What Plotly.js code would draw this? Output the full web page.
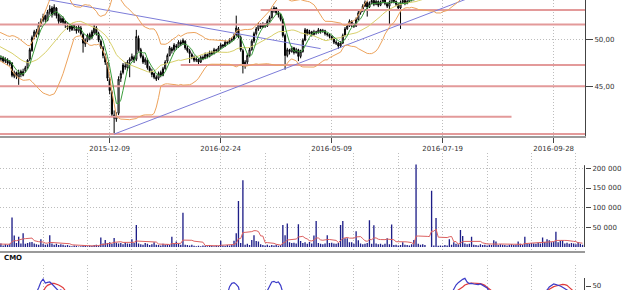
<!DOCTYPE html>
<html>
<head>
<meta charset="utf-8">
<script src="https://cdn.plot.ly/plotly-3.0.1.min.js"></script>
<style>html,body{margin:0;padding:0;background:#fff;overflow:hidden}#chart{width:625px;height:290px}</style>
</head>
<body>
<div id="chart"></div>
<script>
// ---------------- DATA ----------------
// bar index of the first value in every series (bars before 0 lie left of the visible window)
const firstIndex = -25;

const open = [
50.4,50.6,50.9,50.4,50.8,51.2,50.7,50.3,50.5,49.9,50.2,49.6,49.8,49.8,50.0,49.5,49.7,49.2,49.4,48.9,49.1,48.6,48.8,48.3,48.5,
48.1,47.9,48.1,47.7,47.8,47.4,47.5,46.1,46.5,46.0,
46.6,46.2,46.7,47.0,47.9,48.8,50.3,50.8,50.6,51.5,
52.0,52.5,52.0,52.9,53.3,52.7,53.3,52.6,51.8,52.2,
51.9,51.4,51.4,51.0,51.5,51.1,50.9,51.2,50.5,49.5,
49.9,50.5,50.2,50.7,51.2,50.6,49.8,49.1,48.2,47.5,
45.8,44.4,42.0,41.6,42.2,45.9,46.5,47.2,47.0,47.7,
47.9,48.1,47.9,50.1,48.9,48.2,47.6,47.8,47.0,46.6,
46.4,46.0,45.9,46.5,46.2,46.9,47.7,48.3,49.0,48.9,
49.3,49.2,49.7,49.6,49.8,49.1,48.8,48.4,48.1,47.8,
47.9,47.6,48.1,48.0,48.4,48.2,48.6,48.5,48.9,48.8,
49.1,49.4,49.3,49.7,49.6,49.9,50.0,50.5,51.1,50.2,
48.8,47.2,47.6,48.3,48.9,49.8,50.6,51.1,51.6,51.3,
51.6,51.4,51.9,52.3,53.0,53.3,52.8,52.6,52.1,50.4,
48.3,48.9,48.7,49.1,48.6,48.9,48.2,48.7,49.9,51.0,
50.6,50.8,50.5,50.8,50.7,51.0,50.8,50.9,50.6,50.5,
50.3,50.1,49.7,49.6,49.3,49.6,50.4,51.1,51.4,51.9,
51.5,51.4,52.1,52.8,53.0,53.5,53.9,53.4,53.8,54.1,
53.7,54.0,53.6,53.9,54.2,53.8,53.5,53.9,54.3,54.0,
53.7,53.3,53.9,54.1,53.8,54.0,54.4,54.2,54.6,54.9,
55.3,55.0,55.4,55.2,55.6,55.5,56.6,56.4,57.3,57.1,
57.6,57.9,58.3,58.1,58.6,58.9,59.3,59.1,59.6,59.9,
60.2,60.0,59.6,59.8,59.3,59.5,59.1,59.4,58.9,59.2,
58.8,59.0,59.3,58.9,59.1,58.7,58.9,59.2,58.8,59.0,
58.6,58.9,58.7,59.1,58.8,59.0,59.3,58.9,59.1,59.4,
59.2,59.5,59.3,59.6,59.4,59.7,60.0,59.8,60.2,60.5,
60.9,61.3,61.1,61.6,61.9,61.7,62.0,61.8,61.5,61.7,
61.4,61.6,61.3,61.5
];
const high = [
50.9,51.2,51.1,51.0,51.4,51.4,50.9,50.8,50.7,50.4,50.4,50.0,50.1,50.2,50.2,49.9,49.9,49.6,49.6,49.3,49.3,49.0,49.0,48.7,48.7,
48.3,48.3,48.2,48.1,48.0,47.8,47.6,46.7,46.6,46.8,
46.8,46.9,47.2,47.9,49.1,50.4,51.0,51.1,51.8,52.2,
52.7,52.6,53.1,53.6,53.5,53.7,53.4,52.7,52.5,52.4,
52.0,51.8,51.6,51.7,51.6,51.4,51.6,51.4,50.7,50.1,
50.6,50.7,51.0,51.6,51.4,50.8,50.0,49.3,48.5,47.6,
46.0,44.6,42.5,42.3,46.1,46.7,47.5,47.6,47.8,48.1,
48.5,48.3,51.0,50.4,49.1,48.4,48.1,48.0,47.2,46.9,
46.5,46.2,46.6,46.7,47.1,47.8,48.5,49.3,49.2,49.6,
49.5,49.9,49.9,50.1,49.9,49.3,49.0,48.6,48.3,48.1,
48.0,48.3,48.3,48.6,48.5,48.8,48.8,49.1,49.0,49.3,
49.6,49.5,49.9,49.8,50.1,50.2,50.6,52.5,51.3,50.4,
49.0,47.8,48.5,49.1,50.0,50.8,51.3,51.8,51.7,51.8,
51.7,52.1,52.5,53.3,53.5,53.4,53.0,52.7,52.2,50.6,
49.1,49.0,49.3,49.2,49.1,49.0,48.9,50.1,51.2,51.1,
51.0,50.9,51.0,50.9,51.2,51.1,51.1,51.0,50.7,50.6,
50.4,50.2,49.9,49.7,49.8,50.6,51.3,51.6,52.1,52.0,
51.7,52.3,53.0,53.2,53.7,54.1,54.0,54.0,54.3,54.2,
54.2,54.1,54.1,54.4,54.3,53.9,54.1,54.5,54.4,54.1,
53.8,54.1,54.3,54.2,54.2,54.6,54.5,54.8,55.1,55.5,
55.5,55.6,55.6,55.8,55.8,56.8,56.8,57.5,57.5,57.8,
58.1,58.5,58.5,58.8,59.1,59.5,59.5,59.8,60.1,60.4,
60.4,60.2,60.0,60.0,59.7,59.7,59.6,59.6,59.4,59.4,
59.2,59.5,59.5,59.3,59.3,59.1,59.4,59.4,59.2,59.2,
59.1,59.1,59.3,59.3,59.2,59.5,59.5,59.3,59.6,59.6,
59.7,59.7,59.8,59.8,59.9,60.2,60.2,60.4,60.7,61.1,
61.5,61.5,61.8,62.1,62.1,62.2,62.2,62.0,61.9,61.9,
61.8,61.8,61.7,61.7
];
const low = [
50.1,50.4,50.2,50.2,50.6,50.5,50.1,50.1,49.7,49.7,49.4,49.4,49.6,49.6,49.3,49.3,49.0,49.0,48.7,48.7,48.4,48.4,48.1,48.1,47.9,
47.5,47.7,47.5,47.5,47.3,47.2,46.0,45.9,45.8,45.2,
46.0,46.1,46.5,46.9,47.7,48.7,50.0,50.2,50.4,51.3,
51.8,51.8,51.9,52.6,52.3,52.5,52.2,51.6,51.7,51.5,
51.2,51.0,50.8,50.9,50.9,50.6,50.7,50.4,48.6,49.2,
49.7,49.9,50.0,50.5,50.4,49.7,49.0,48.0,47.3,45.6,
44.2,41.8,40.0,41.3,42.0,45.5,46.3,46.8,46.7,46.0,
47.7,47.5,47.7,48.7,48.0,47.4,47.3,46.8,46.5,46.0,
45.8,45.6,45.7,46.0,46.1,46.8,47.5,48.2,48.5,48.7,
48.9,49.1,49.3,49.4,48.9,48.6,47.5,47.9,47.6,47.6,
47.3,47.5,47.8,47.9,48.0,48.1,48.3,48.4,48.6,48.7,
49.0,49.1,49.2,49.4,49.5,49.7,49.9,50.3,50.1,48.7,
46.4,46.9,47.4,48.1,48.8,49.6,50.4,50.9,51.1,51.2,
51.2,51.3,51.8,52.2,52.8,52.6,52.3,51.9,50.2,46.8,
48.1,48.4,48.6,48.4,48.5,47.7,48.0,48.6,49.8,50.4,
50.5,50.3,50.4,50.5,50.6,50.6,50.7,50.4,50.3,50.1,
49.9,49.5,49.4,49.0,49.1,49.5,50.3,51.0,51.3,51.3,
51.2,51.3,52.0,52.6,52.9,53.4,52.4,53.3,53.7,53.5,
53.6,53.4,53.5,53.8,53.6,53.3,51.5,53.8,53.8,53.5,
53.1,51.1,53.8,53.6,53.7,53.9,54.0,54.1,54.4,54.7,
54.8,54.8,55.0,55.0,55.3,55.3,56.2,56.2,56.9,56.9,
57.4,57.7,57.9,57.9,58.4,58.7,58.9,58.9,59.4,59.7,
59.8,59.4,59.4,59.1,59.1,58.9,58.9,58.7,58.7,58.6,
58.6,58.8,58.7,58.7,58.5,58.5,58.7,58.6,58.6,58.4,
58.4,58.5,58.5,58.6,58.6,58.8,58.7,58.7,58.9,59.0,
59.0,59.1,59.1,59.2,59.2,59.5,59.6,59.6,60.0,60.3,
60.7,60.9,60.9,61.4,61.5,61.5,61.6,61.3,61.3,61.2,
61.2,61.1,61.1,61.0
];
const close = [
50.6,50.9,50.4,50.8,51.2,50.7,50.3,50.5,49.9,50.2,49.6,49.8,49.8,50.0,49.5,49.7,49.2,49.4,48.9,49.1,48.6,48.8,48.3,48.5,48.1,
47.9,48.0,47.7,47.9,47.5,47.6,46.2,46.4,46.1,46.5,
46.3,46.6,47.0,47.8,48.9,50.2,50.8,50.5,51.6,51.9,
52.4,52.1,52.9,53.2,52.6,53.4,52.5,51.9,52.2,51.8,
51.5,51.3,51.1,51.4,51.2,50.9,51.3,50.6,49.6,49.9,
50.4,50.1,50.8,51.3,50.6,49.9,49.2,48.3,47.6,45.9,
44.6,42.1,41.7,41.9,45.8,46.4,47.3,47.1,47.6,47.9,
48.2,47.8,50.3,48.9,48.2,47.6,47.9,47.0,46.7,46.3,
46.0,45.8,46.4,46.2,46.9,47.6,48.3,49.1,48.8,49.4,
49.2,49.7,49.5,49.9,49.1,48.8,48.5,48.2,47.8,47.9,
47.6,48.1,48.0,48.4,48.2,48.6,48.5,48.9,48.8,49.1,
49.4,49.3,49.7,49.6,49.9,50.0,50.4,51.2,50.3,48.9,
47.2,47.6,48.3,48.9,49.8,50.6,51.1,51.6,51.3,51.6,
51.4,51.9,52.3,53.0,53.3,52.8,52.6,52.1,50.4,48.3,
48.9,48.7,49.1,48.6,48.9,48.2,48.7,49.9,51.0,50.6,
50.8,50.5,50.8,50.7,51.0,50.8,50.9,50.6,50.5,50.3,
50.1,49.7,49.6,49.3,49.6,50.4,51.1,51.4,51.9,51.5,
51.4,52.1,52.8,53.0,53.5,53.9,53.4,53.8,54.1,53.7,
54.0,53.6,53.9,54.2,53.8,53.5,53.9,54.3,54.0,53.7,
53.3,53.9,54.1,53.8,54.0,54.4,54.2,54.6,54.9,55.3,
55.0,55.4,55.2,55.6,55.5,56.6,56.4,57.3,57.1,57.6,
57.9,58.3,58.1,58.6,58.9,59.3,59.1,59.6,59.9,60.2,
60.0,59.6,59.8,59.3,59.5,59.1,59.4,58.9,59.2,58.8,
59.0,59.3,58.9,59.1,58.7,58.9,59.2,58.8,59.0,58.6,
58.9,58.7,59.1,58.8,59.0,59.3,58.9,59.1,59.4,59.2,
59.5,59.3,59.6,59.4,59.7,60.0,59.8,60.2,60.5,60.9,
61.3,61.1,61.6,61.9,61.7,62.0,61.8,61.5,61.7,61.4,
61.6,61.3,61.5,61.2
];
const volume = [
8000,12000,6000,9000,15000,7000,5000,11000,8000,6000,10000,14000,7000,9000,6000,12000,8000,5000,9000,7000,11000,6000,8000,10000,7000,
6000,9000,4000,7000,5000,8000,75000,29000,10000,26000,
9000,35000,8000,10000,12000,13000,9000,7000,6000,20000,
8000,6000,7000,30000,9000,6000,8000,5000,7000,6000,
4000,5000,3000,2000,4000,3000,1000,2000,4000,3000,
2000,4000,3000,5000,6000,4000,24000,9000,18000,10000,
12000,8000,23000,11000,9000,10000,7000,12000,9000,8000,
20000,10000,56000,9000,7000,6000,10000,8000,5000,7000,
12000,6000,5000,4000,8000,6000,7000,5000,26000,9000,
14000,8000,6000,87000,6000,5000,4000,6000,3000,2000,
3000,2000,4000,3000,2000,5000,3000,2000,4000,3000,
16000,4000,3000,5000,4000,6000,16000,35000,117000,10000,
170000,6000,8000,5000,18000,30000,15000,14000,7000,5000,
4000,6000,3000,5000,4000,6000,3000,5000,56000,30000,
60000,12000,10000,11000,9000,58000,15000,10000,12000,8000,
13000,9000,29000,66000,10000,8000,7000,9000,30000,10000,
11000,9000,8000,10000,56000,66000,22000,22000,12000,12000,
8000,40000,17000,9000,7000,8000,10000,68000,8000,55000,
9000,7000,8000,6000,8000,22000,7000,57000,5000,6000,
4000,5000,12000,6000,5000,4000,7000,18000,210000,8000,
6000,7000,5000,0,0,143000,4000,74000,3000,4000,
3000,5000,4000,20000,6000,12000,8000,7000,43000,28000,
9000,7000,8000,26000,6000,5000,4000,7000,5000,6000,
4000,6000,5000,17000,14000,5000,7000,6000,5000,4000,
6000,7000,5000,6000,14000,8000,6000,26000,9000,8000,
10000,9000,8000,11000,9000,24000,13000,20000,17000,12000,
14000,39000,12000,15000,17000,9000,11000,8000,10000,9000,
7000,12000,8000,6000
];
const cmo = [
-10,-5,-12,-20,-15,-25,-30,-22,-28,-35,-30,-38,-32,-40,-45,-38,-42,-48,-40,-44,-50,-46,-52,-48,-50,
-45,-40,-44,-38,-42,-40,-55,-52,-58,-50,
-48,-40,-32,-20,-5,10,22,30,45,62,
71,59,61,62,56,50,42,35,38,30,
25,20,15,18,12,5,8,0,-12,-8,
-2,-5,5,12,2,-10,-20,-30,-38,-52,
-60,-70,-72,-68,-35,-28,-20,-18,-12,-8,
-5,-10,15,5,-2,-10,-5,-15,-20,-25,
-28,-30,-20,-22,-10,0,10,22,18,28,
25,32,30,35,22,15,8,2,-5,-2,
-8,0,-2,5,2,8,6,12,10,15,
22,20,28,25,48,58,60,55,47,10,
-15,-10,-2,8,18,28,35,34,33,35,
34,36,50,62,64,60,62,52,30,0,
5,0,8,-2,5,-10,-5,10,25,20,
22,18,25,20,28,22,24,18,15,10,
5,-5,-8,-15,-10,5,18,25,32,28,
26,30,33,34,35,35,30,33,34,31,
33,30,31,34,28,24,27,31,28,25,
20,24,27,24,26,30,28,31,34,35,
30,33,28,31,29,34,31,35,33,31,
29,27,31,33,28,40,53,60,66,70,
73,62,57,58,56,55,54,56,52,48,
44,34,32,35,33,30,34,28,32,25,
22,28,24,30,26,20,25,30,28,32,
30,33,31,34,32,36,34,38,47,53,
56,54,53,50,46,42,38,35,30,32,
28,25,30,27
];
const cmoSignal = [
-5,-7,-9,-12,-14,-17,-20,-22,-25,-27,-29,-31,-33,-35,-37,-38,-40,-41,-43,-44,-45,-46,-47,-48,-48,
-48,-47,-46,-45,-44,-43,-45,-47,-49,-50,
-50,-48,-45,-40,-33,-25,-15,-5,8,22,
35,45,52,56,58,58,56,53,49,45,
36,33,30,25,20,16,12,8,3,0,
-2,-4,-3,0,2,0,-4,-10,-18,-28,
-38,-48,-56,-62,-60,-55,-48,-40,-32,-25,
-18,-14,-8,-4,-2,-3,-4,-6,-10,-14,
-18,-22,-24,-24,-22,-17,-10,-2,6,12,
17,22,26,29,30,28,24,18,12,7,
3,1,0,0,1,2,4,6,8,10,
12,15,18,21,25,28,31,33,34,33,
30,26,20,14,11,12,16,22,26,29,
32,33,34,35,36,36,35,34,33,30,
30,22,15,8,4,2,0,2,6,10,
14,17,20,21,22,22,22,21,20,18,
14,10,5,0,-3,-3,0,5,12,18,
22,25,27,29,30,31,31,32,32,32,
32,31,31,30,29,28,27,27,26,26,
25,25,25,26,26,27,28,29,30,30,
31,31,31,32,32,32,33,33,33,33,
33,32,32,32,32,33,35,38,42,47,
53,56,58,59,59,59,58,57,55,52,
46,40,36,34,33,32,31,30,29,28,
28,27,26,26,26,25,25,26,26,27,
28,29,30,31,32,33,34,35,40,45,
48,50,52,54,55,54,52,46,38,34,
31,29,28,27
];

// date labels (bar index -> date)
const tickIndex = [50, 100, 150, 200, 250];
const tickDates = ['2015-12-09', '2016-02-24', '2016-05-09', '2016-07-19', '2016-09-28'];

// horizontal price levels (price, first bar, last bar)
const levelPrice = [53.09, 51.56, 47.29, 45.05, 41.84, 40.01];
const levelStart = [118, -5, 82, -5, -5, -5];
const levelEnd   = [270, 270, 270, 270, 231, 270];

// trend lines (bar index, price)
const supportX = [52, 270];
const supportY = [40.0, 59.58];
const resistX = [10, 145];
const resistY = [54.70, 49.02];

// ---------------- INDICATORS ----------------
const n = Math.min(open.length, high.length, low.length, close.length, volume.length, cmo.length, cmoSignal.length);
const idx = [];
for (let k = 0; k < n; k++) idx.push(firstIndex + k);
const O = open.slice(0, n), H = high.slice(0, n), L = low.slice(0, n), C = close.slice(0, n);
const V = volume.slice(0, n);

function sma(a, p) {
  return a.map((_, k) => {
    if (k < p - 1) return null;
    let s = 0; for (let j = k - p + 1; j <= k; j++) s += a[j];
    return s / p;
  });
}
function stdev(a, p, m) {
  return a.map((_, k) => {
    if (k < p - 1) return null;
    let s = 0; for (let j = k - p + 1; j <= k; j++) s += (a[j] - m[k]) * (a[j] - m[k]);
    return Math.sqrt(s / p);
  });
}
const mid = sma(C, 20);
const sd = stdev(C, 20, mid);
const bbUp = mid.map((m, k) => m === null ? null : m + 2 * sd[k]);
const bbDn = mid.map((m, k) => m === null ? null : m - 2 * sd[k]);
const fast = sma(C, 5);
const volAvg = sma(V, 10);

// ---------------- TRACES ----------------
const traces = [];
levelPrice.forEach((p, k) => {
  traces.push({type: 'scatter', mode: 'lines', x: [levelStart[k], levelEnd[k]], y: [p, p],
    xaxis: 'x', yaxis: 'y', line: {color: '#e39a9a', width: 2}, hoverinfo: 'skip'});
});
traces.push({type: 'scatter', mode: 'lines', x: supportX, y: supportY, xaxis: 'x', yaxis: 'y',
  line: {color: '#7c7cd8', width: 1}, hoverinfo: 'skip'});
traces.push({type: 'scatter', mode: 'lines', x: resistX, y: resistY, xaxis: 'x', yaxis: 'y',
  line: {color: '#7c7cd8', width: 1}, hoverinfo: 'skip'});
traces.push({type: 'scatter', mode: 'lines', x: idx, y: bbUp, xaxis: 'x', yaxis: 'y',
  line: {color: '#eda35c', width: 1}, hoverinfo: 'skip'});
traces.push({type: 'scatter', mode: 'lines', x: idx, y: bbDn, xaxis: 'x', yaxis: 'y',
  line: {color: '#eda35c', width: 1}, hoverinfo: 'skip'});
traces.push({type: 'scatter', mode: 'lines', x: idx, y: mid, xaxis: 'x', yaxis: 'y',
  line: {color: '#d8d06a', width: 1}, hoverinfo: 'skip'});
traces.push({type: 'candlestick', x: idx, open: O, high: H, low: L, close: C, xaxis: 'x', yaxis: 'y',
  whiskerwidth: 0,
  increasing: {line: {color: '#000', width: 1}, fillcolor: '#ffffff'},
  decreasing: {line: {color: '#000', width: 1}, fillcolor: '#000000'},
  hoverinfo: 'skip'});
traces.push({type: 'scatter', mode: 'lines', x: idx, y: fast, xaxis: 'x', yaxis: 'y',
  line: {color: '#3c9e3c', width: 1}, hoverinfo: 'skip'});

traces.push({type: 'bar', x: idx, y: V, xaxis: 'x2', yaxis: 'y2', width: 0.6,
  marker: {color: '#1e1e88', line: {width: 0}}, hoverinfo: 'skip'});
traces.push({type: 'scatter', mode: 'lines', x: idx, y: volAvg, xaxis: 'x2', yaxis: 'y2',
  line: {color: '#dc6060', width: 1}, hoverinfo: 'skip'});

traces.push({type: 'scatter', mode: 'lines', x: idx, y: cmoSignal.slice(0, n), xaxis: 'x3', yaxis: 'y3',
  line: {color: '#e03c3c', width: 1.2}, hoverinfo: 'skip'});
traces.push({type: 'scatter', mode: 'lines', x: idx, y: cmo.slice(0, n), xaxis: 'x3', yaxis: 'y3',
  line: {color: '#3c3cc8', width: 1.2}, hoverinfo: 'skip'});

// ---------------- LAYOUT ----------------
const W = 625, Hh = 290;
const xr = [0.586, 264.1];
const xdom = [0, 585 / W];
const grid = {showgrid: true, gridcolor: '#bdbdbd', griddash: '1px,2px', gridwidth: 1};
const layout = {
  width: W, height: Hh,
  margin: {l: 0, r: 0, t: 0, b: 0, pad: 0},
  paper_bgcolor: '#fff', plot_bgcolor: '#fff',
  showlegend: false, hovermode: false,
  separators: ', ',
  font: {family: 'DejaVu Sans, Verdana, sans-serif', size: 7, color: '#333'},
  xaxis: Object.assign({}, grid, {
    domain: xdom, range: xr, anchor: 'y', rangeslider: {visible: false},
    tickmode: 'array', tickvals: tickIndex, ticktext: tickDates,
    ticks: 'outside', ticklen: 5, tickcolor: '#444', tickwidth: 1,
    showline: true, linecolor: '#9a9a9a', linewidth: 2, zeroline: false,
    tickfont: {size: 7, color: '#333'}
  }),
  yaxis: Object.assign({}, grid, {
    domain: [1 - 136 / Hh, 1], range: [39.8, 54.15], side: 'right', anchor: 'x',
    tickmode: 'array', tickvals: [45, 50], tickformat: '.2f',
    ticks: 'outside', ticklen: 7, tickcolor: '#444',
    showline: true, linecolor: '#444', linewidth: 1, zeroline: false
  }),
  xaxis2: Object.assign({}, grid, {
    domain: xdom, range: xr, anchor: 'y2', tick0: 0, dtick: 20, showticklabels: false,
    ticks: '', showline: true, linecolor: '#9a9a9a', linewidth: 2, zeroline: false
  }),
  yaxis2: Object.assign({}, grid, {
    domain: [1 - 250.7 / Hh, 1 - 153 / Hh], range: [-9400, 239000], side: 'right', anchor: 'x2',
    tickmode: 'array', tickvals: [50000, 100000, 150000, 200000], tickformat: ',d',
    ticks: 'outside', ticklen: 5, tickcolor: '#444', showline: false, zeroline: false
  }),
  xaxis3: Object.assign({}, grid, {
    domain: xdom, range: xr, anchor: 'y3', tick0: 0, dtick: 20, showticklabels: false,
    ticks: '', showline: false, zeroline: false
  }),
  yaxis3: {
    domain: [0, 1 - 265 / Hh], range: [38, 113], side: 'right', anchor: 'x3',
    tickmode: 'array', tickvals: [50], ticks: 'outside', ticklen: 5, tickcolor: '#444',
    ticklabeloverflow: 'allow',
    showgrid: false, showline: false, zeroline: false
  },
  shapes: [
    {type: 'line', xref: 'paper', yref: 'y2', x0: 584.5 / W, x1: 584.5 / W, y0: 0, y1: 208000,
     line: {color: '#444', width: 1}},
    {type: 'line', xref: 'paper', yref: 'y3', x0: 584.5 / W, x1: 584.5 / W, y0: 38, y1: 74,
     line: {color: '#444', width: 1}}
  ],
  annotations: [
    {text: '<b>CMO</b>', xref: 'paper', yref: 'paper', x: 0.003, y: 1 - 258 / Hh,
     xanchor: 'left', yanchor: 'middle', showarrow: false, font: {size: 7, color: '#111'}}
  ]
};

Plotly.newPlot('chart', traces, layout, {staticPlot: true, displayModeBar: false});
</script>
</body>
</html>
